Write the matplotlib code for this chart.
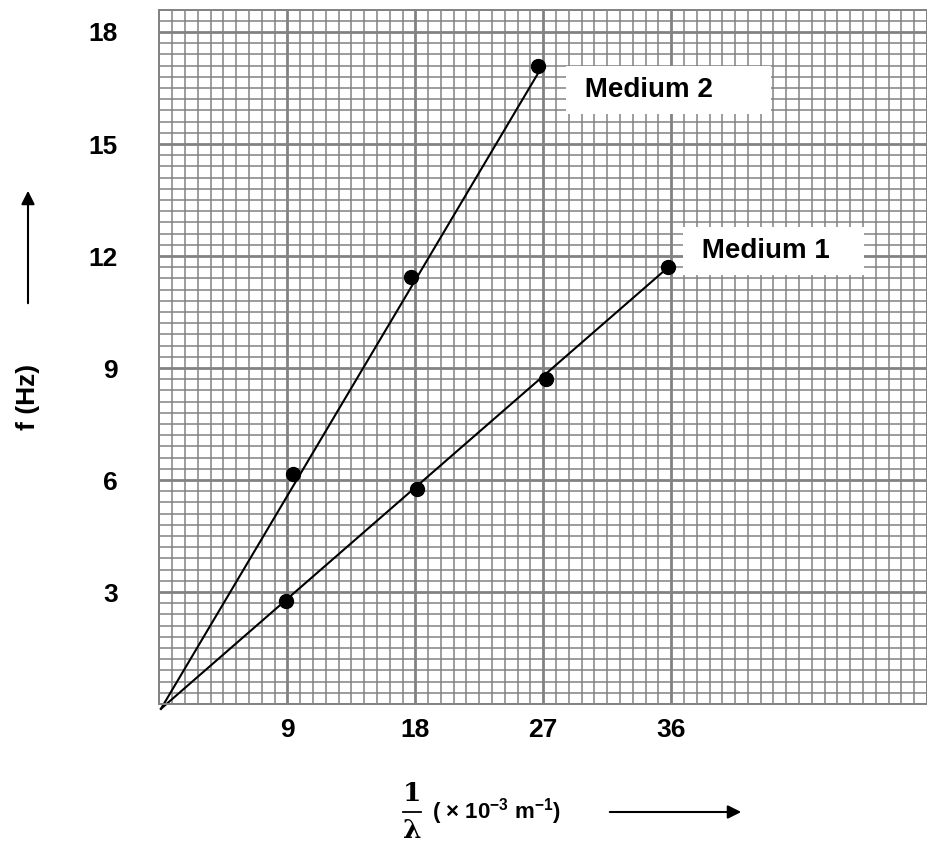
import numpy as np
import matplotlib
matplotlib.use('Agg')
import matplotlib.pyplot as plt
from matplotlib.patches import FancyArrowPatch
from matplotlib.ticker import MultipleLocator

# Data
medium1_x = [8.9, 18.1, 27.2, 35.8]
medium1_f = [2.75, 5.75, 8.7, 11.7]
medium2_x = [9.4, 17.7, 26.6]
medium2_f = [6.15, 11.45, 17.1]

# best-fit lines drawn through the origin
medium1_line_x = [0.1, 35.8]
medium1_line_f = [-0.13, 11.7]
medium2_line_x = [0.1, 26.8]
medium2_line_f = [-0.13, 17.0]

x_ticks = [9, 18, 27, 36]
y_ticks = [3, 6, 9, 12, 15, 18]

GRID = '#828282'

plt.rcParams['font.family'] = ['Liberation Sans', 'DejaVu Sans']
plt.rcParams['font.weight'] = 'bold'
plt.rcParams['mathtext.fontset'] = 'custom'
plt.rcParams['mathtext.rm'] = 'Liberation Sans:bold'
plt.rcParams['mathtext.bf'] = 'Liberation Sans:bold'


def main():
    fig = plt.figure(figsize=(9.28, 8.47), dpi=100)
    ax = fig.add_axes([159.5 / 928, 143 / 847, (927 - 159.5) / 928, (704 - 9.6) / 847])

    ax.set_xlim(0, 54)
    ax.set_ylim(0, 18.6)

    # graph paper
    ax.xaxis.set_major_locator(MultipleLocator(9))
    ax.xaxis.set_minor_locator(MultipleLocator(0.9))
    ax.yaxis.set_major_locator(MultipleLocator(3))
    ax.yaxis.set_minor_locator(MultipleLocator(0.3))
    ax.grid(which='major', color=GRID, linewidth=2.0)
    ax.grid(which='minor', color=GRID, linewidth=1.1)
    ax.set_axisbelow(True)
    for s in ax.spines.values():
        s.set_color(GRID)
        s.set_linewidth(1.4)

    ax.set_xticks(x_ticks)
    ax.set_yticks(y_ticks)
    ax.set_xticklabels([str(v) for v in x_ticks])
    ax.set_yticklabels([str(v) for v in y_ticks])
    ax.tick_params(which='both', length=0)
    ax.tick_params(axis='x', pad=10, labelsize=19)
    ax.tick_params(axis='y', pad=30, labelsize=19)
    for lab in ax.get_yticklabels():
        lab.set_verticalalignment('center_baseline')

    # fitted lines and measured points
    ax.plot(medium2_line_x, medium2_line_f, color='black', lw=1.5, clip_on=False)
    ax.plot(medium1_line_x, medium1_line_f, color='black', lw=1.5, clip_on=False)
    ax.plot(medium2_x, medium2_f, 'o', color='black', ms=10, clip_on=False)
    ax.plot(medium1_x, medium1_f, 'o', color='black', ms=10, clip_on=False)

    box = dict(boxstyle='square,pad=0.4', facecolor='white', edgecolor='none')
    ax.text(29.4, 16.45, ' Medium 2      ', fontsize=20, fontweight='bold',
            ha='left', va='center', bbox=box)
    ax.text(37.6, 12.13, ' Medium 1   ', fontsize=20, fontweight='bold',
            ha='left', va='center', bbox=box)

    # axis titles with arrows
    fig.text(28 / 928, 1 - 397 / 847, 'f (Hz)', rotation=90, fontsize=19,
             fontweight='bold', ha='center', va='center')
    fig.patches.append(FancyArrowPatch(
        (28 / 928, 1 - 306 / 847), (28 / 928, 1 - 188 / 847),
        transform=fig.transFigure, arrowstyle='-|>', mutation_scale=20,
        lw=1.5, color='black'))

    # 1/lambda as two stacked pieces with a bar between them
    fig.text(412 / 928, 1 - 806 / 847, '1', family='DejaVu Serif',
             fontsize=19, fontweight='bold', ha='center', va='bottom')
    fig.text(412 / 928, 1 - 818 / 847, 'λ', family='DejaVu Serif',
             fontsize=19, fontweight='bold', ha='center', va='top')
    fig.lines.append(plt.Line2D([403 / 928, 421 / 928], [1 - 812 / 847, 1 - 812 / 847],
                                transform=fig.transFigure, color='black', lw=1.3))
    fig.text(432 / 928, 1 - 812 / 847, r'( $\times$ 10$^{\mathbf{-3}}$ m$^{\mathbf{-1}}$)',
             fontsize=16, fontweight='bold', ha='left', va='center')
    fig.patches.append(FancyArrowPatch(
        (607 / 928, 1 - 812 / 847), (744 / 928, 1 - 812 / 847),
        transform=fig.transFigure, arrowstyle='-|>', mutation_scale=20,
        lw=1.5, color='black'))

    fig.savefig('out.png', dpi=100, facecolor='white')


if __name__ == "__main__":
    main()
